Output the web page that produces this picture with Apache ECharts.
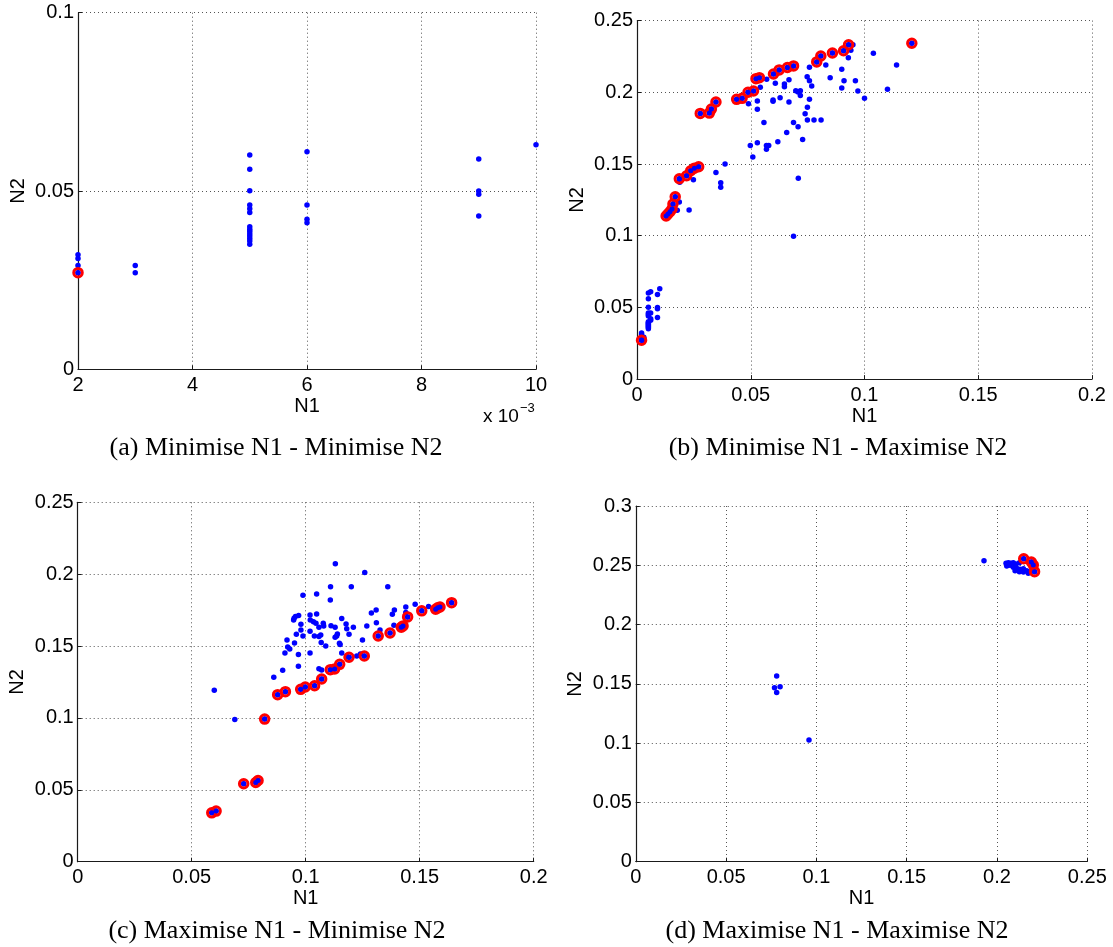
<!DOCTYPE html>
<html>
<head>
<meta charset="utf-8">
<script src="https://cdn.jsdelivr.net/npm/echarts@6/dist/echarts.min.js"></script>
<style>
  html, body { margin: 0; padding: 0; background: #ffffff; }
  #chart { width: 1113px; height: 947px; }
</style>
</head>
<body>
<div id="chart"></div>
<script>
// ---------- (a) Minimise N1 - Minimise N2 ----------
const aPopN1 = [0.002, 0.002, 0.002, 0.003, 0.003,
  0.005, 0.005, 0.005, 0.005, 0.005, 0.005, 0.005, 0.005, 0.005, 0.005, 0.005, 0.005, 0.005, 0.005,
  0.006, 0.006, 0.006, 0.006, 0.009, 0.009, 0.009, 0.009, 0.010];
const aPopN2 = [0.0321, 0.0311, 0.0291, 0.0291, 0.0271,
  0.0601, 0.0561, 0.0501, 0.0461, 0.0450, 0.0440, 0.0400, 0.0393, 0.0387, 0.0380, 0.0374, 0.0367, 0.0360, 0.0351,
  0.0610, 0.0461, 0.0421, 0.0411, 0.0590, 0.0500, 0.0491, 0.0430, 0.0630];
const aFrontN1 = [0.002];
const aFrontN2 = [0.0271];
const aTicksN1 = [2, 4, 6, 8, 10];   // shown in units of 10^-3

// ---------- (b) Minimise N1 - Maximise N2 ----------
const bPopN1 = [0.002, 0.002, 0.002, 0.003, 0.003,
  0.005, 0.005, 0.005, 0.005, 0.005, 0.005, 0.005, 0.005, 0.005, 0.005, 0.005, 0.005, 0.005, 0.005,
  0.006, 0.006, 0.006, 0.006, 0.009, 0.009, 0.009, 0.009, 0.010,
  0.0177, 0.0186, 0.0229, 0.0188, 0.0248, 0.0347, 0.0368, 0.0368, 0.0387,
  0.0490, 0.0529, 0.0529, 0.0498, 0.0509, 0.0529, 0.0558, 0.0569, 0.0569, 0.0579,
  0.0570, 0.0542, 0.0598, 0.0598, 0.0608, 0.0619, 0.0629, 0.0648, 0.0648, 0.0658,
  0.0668, 0.0668, 0.0688, 0.0688, 0.0698, 0.0708, 0.0718, 0.0718, 0.0708, 0.0709,
  0.0728, 0.0739, 0.0749, 0.0758, 0.0749, 0.0778, 0.0809, 0.0758, 0.0748, 0.0758,
  0.0768, 0.0830, 0.0849, 0.0900, 0.0900, 0.0910, 0.0960, 0.0971, 0.1000, 0.1039,
  0.1101, 0.1141, 0.0940, 0.0929, 0.0949];
const bPopN2 = [0.0321, 0.0311, 0.0291, 0.0291, 0.0271,
  0.0601, 0.0561, 0.0501, 0.0461, 0.0450, 0.0440, 0.0400, 0.0393, 0.0387, 0.0380, 0.0374, 0.0367, 0.0360, 0.0351,
  0.0610, 0.0461, 0.0421, 0.0411, 0.0590, 0.0500, 0.0491, 0.0430, 0.0630,
  0.1177, 0.1235, 0.1179, 0.1372, 0.1390, 0.1441, 0.1370, 0.1337, 0.1500,
  0.1920, 0.1939, 0.1881, 0.1629, 0.1548, 0.1648, 0.1790, 0.1629, 0.1602, 0.1629,
  0.2091, 0.2035, 0.1946, 0.1937, 0.2063, 0.1656, 0.1962, 0.2058, 0.2039, 0.1720,
  0.2088, 0.1932, 0.1790, 0.0997, 0.2011, 0.2002, 0.2011, 0.1978, 0.1760, 0.1400,
  0.1671, 0.1851, 0.1895, 0.1951, 0.1806, 0.1806, 0.1806, 0.2174, 0.2109, 0.2081,
  0.2044, 0.2191, 0.2102, 0.2160, 0.2030, 0.2081, 0.2081, 0.2009, 0.1958, 0.2272,
  0.2021, 0.2190, 0.2293, 0.2241, 0.2332];
const bFrontN1 = [0.002, 0.0128, 0.0136, 0.0145, 0.0154, 0.0158, 0.0168, 0.0186, 0.0218, 0.0236,
  0.0252, 0.0271, 0.0278, 0.0318, 0.0327, 0.0347, 0.0438, 0.0462, 0.0488, 0.0512,
  0.0523, 0.0538, 0.0600, 0.0625, 0.0661, 0.0688, 0.0790, 0.0808, 0.0859, 0.0908,
  0.0930, 0.1208];
const bFrontN2 = [0.0271, 0.1137, 0.1151, 0.1167, 0.1186, 0.1221, 0.1272, 0.1397, 0.1418, 0.1453,
  0.1471, 0.1481, 0.1853, 0.1855, 0.1883, 0.1932, 0.1951, 0.1958, 0.2000, 0.2009,
  0.2095, 0.2102, 0.2128, 0.2156, 0.2173, 0.2184, 0.2212, 0.2253, 0.2274, 0.2290,
  0.2332, 0.2342];

// ---------- (c) Maximise N1 - Minimise N2 ----------
const cPopN1 = [0.1130, 0.1259, 0.0988, 0.1048, 0.1109, 0.1200, 0.1360, 0.1108, 0.0949, 0.0955,
  0.0969, 0.0947, 0.1019, 0.1020, 0.1034, 0.1048, 0.1045, 0.1058, 0.1077, 0.1079,
  0.1111, 0.1129, 0.1158, 0.1177, 0.1180, 0.1209, 0.0979, 0.0979, 0.0959, 0.0988,
  0.1019, 0.1038, 0.1058, 0.1066, 0.1068, 0.1088, 0.1129, 0.1136, 0.1139, 0.1148,
  0.1151, 0.1190, 0.1249, 0.1268, 0.1288, 0.1309, 0.1310, 0.1380, 0.1389, 0.1439,
  0.1439, 0.1480, 0.1539, 0.1387, 0.0918, 0.0921, 0.0930, 0.0951, 0.0909, 0.0968,
  0.1019, 0.0968, 0.0899, 0.0860, 0.1058, 0.0599, 0.0689, 0.1158, 0.1224, 0.1240,
  0.1180, 0.1070, 0.1326];
const cPopN2 = [0.2072, 0.2011, 0.1853, 0.1863, 0.1912, 0.1912, 0.1912, 0.1821, 0.1693, 0.1705,
  0.1712, 0.1681, 0.1716, 0.1681, 0.1669, 0.1723, 0.1658, 0.1630, 0.1658, 0.1640,
  0.1642, 0.1630, 0.1691, 0.1654, 0.1621, 0.1630, 0.1651, 0.1612, 0.1582, 0.1570,
  0.1603, 0.1570, 0.1566, 0.1577, 0.1524, 0.1501, 0.1561, 0.1570, 0.1584, 0.1519,
  0.1510, 0.1582, 0.1543, 0.1640, 0.1730, 0.1751, 0.1663, 0.1721, 0.1751, 0.1772,
  0.1733, 0.1791, 0.1775, 0.1645, 0.1543, 0.1494, 0.1480, 0.1522, 0.1452, 0.1441,
  0.1452, 0.1359, 0.1331, 0.1283, 0.1343, 0.1192, 0.0990, 0.1452, 0.1431, 0.1445,
  0.1427, 0.1334, 0.1612];
const cFrontN1 = [0.0588, 0.0607, 0.0728, 0.0781, 0.0791, 0.0820, 0.0877, 0.0911, 0.0978, 0.0998,
  0.1039, 0.1070, 0.1108, 0.1127, 0.1149, 0.1190, 0.1257, 0.1318, 0.1370, 0.1419,
  0.1427, 0.1447, 0.1509, 0.1570, 0.1579, 0.1589, 0.1640];
const cFrontN2 = [0.0340, 0.0352, 0.0542, 0.0551, 0.0565, 0.0992, 0.1162, 0.1183, 0.1199, 0.1215,
  0.1224, 0.1271, 0.1336, 0.1341, 0.1373, 0.1422, 0.1431, 0.1570, 0.1591, 0.1631,
  0.1640, 0.1703, 0.1745, 0.1756, 0.1766, 0.1772, 0.1802];

// ---------- (d) Maximise N1 - Maximise N2 ----------
const dPopN1 = [0.0780, 0.0768, 0.0799, 0.0780, 0.0959, 0.1928,
  0.2050, 0.2063, 0.2076, 0.2090, 0.2105, 0.2124, 0.2054, 0.2072, 0.2090, 0.2109,
  0.2127, 0.2146, 0.2164, 0.2183, 0.2100, 0.2124, 0.2146, 0.2173];
const dPopN2 = [0.1566, 0.1468, 0.1476, 0.1426, 0.1026, 0.2539,
  0.2517, 0.2522, 0.2517, 0.2522, 0.2511, 0.2522, 0.2494, 0.2500, 0.2483, 0.2474,
  0.2466, 0.2471, 0.2454, 0.2443, 0.2454, 0.2446, 0.2443, 0.2432];
const dFrontN1 = [0.2148, 0.2190, 0.2201, 0.2208];
const dFrontN2 = [0.2555, 0.2528, 0.2502, 0.2446];

const captions = [
  '(a) Minimise N1 - Minimise N2',
  '(b) Minimise N1 - Maximise N2',
  '(c) Maximise N1 - Minimise N2',
  '(d) Maximise N1 - Maximise N2'
];

// ---------- layout of the four plots ----------
const panels = [
  { grid: { left: 78, top: 12.7, width: 458, height: 356.6 },
    x: { min: 0.002, max: 0.010, interval: 0.002 }, y: { min: 0, max: 0.1, interval: 0.05 },
    pop: [aPopN1, aPopN2], front: [aFrontN1, aFrontN2], cap: [276, 448] },
  { grid: { left: 637, top: 20.6, width: 455, height: 358.5 },
    x: { min: 0, max: 0.2, interval: 0.05 }, y: { min: 0, max: 0.25, interval: 0.05 },
    pop: [bPopN1, bPopN2], front: [bFrontN1, bFrontN2], cap: [838, 448] },
  { grid: { left: 77.7, top: 502.3, width: 456, height: 359.4 },
    x: { min: 0, max: 0.2, interval: 0.05 }, y: { min: 0, max: 0.25, interval: 0.05 },
    pop: [cPopN1, cPopN2], front: [cFrontN1, cFrontN2], cap: [277, 931] },
  { grid: { left: 635.8, top: 506, width: 451.5, height: 355.7 },
    x: { min: 0, max: 0.25, interval: 0.05 }, y: { min: 0, max: 0.3, interval: 0.05 },
    pop: [dPopN1, dPopN2], front: [dFrontN1, dFrontN2], cap: [837, 931] }
];

const zip = (xs, ys) => xs.map((v, i) => [v, ys[i]]);

const SANS = '"Liberation Sans", Arial, Helvetica, sans-serif';
const SERIF = '"Liberation Serif", "Times New Roman", serif';
const AXIS_COLOR = '#1a1a1a';
const LABEL_SIZE = 20;
const gridLine = { show: true, lineStyle: { color: '#555555', width: 1, type: [1, 3] } };

const grids = [], xAxes = [], yAxes = [], series = [], graphics = [];

panels.forEach((p, i) => {
  grids.push(Object.assign({ containLabel: false }, p.grid));
  xAxes.push({
    type: 'value', gridIndex: i, min: p.x.min, max: p.x.max, interval: p.x.interval,
    name: 'N1', nameLocation: 'middle', nameGap: 27,
    nameTextStyle: { fontFamily: SANS, fontSize: LABEL_SIZE, color: '#000' },
    axisLine: { show: true, onZero: false, lineStyle: { color: AXIS_COLOR, width: 1.2 } },
    axisTick: { show: true, inside: true, length: 4, lineStyle: { color: AXIS_COLOR } },
    axisLabel: {
      fontFamily: SANS, fontSize: LABEL_SIZE, color: '#000', margin: 6,
      formatter: i === 0 ? (v) => String(aTicksN1[Math.round((v - 0.002) / 0.002)]) : null
    },
    splitLine: gridLine
  });
  yAxes.push({
    type: 'value', gridIndex: i, min: p.y.min, max: p.y.max, interval: p.y.interval,
    name: 'N2', nameLocation: 'middle', nameGap: 50, nameRotate: 90,
    nameTextStyle: { fontFamily: SANS, fontSize: LABEL_SIZE, color: '#000' },
    axisLine: { show: true, onZero: false, lineStyle: { color: AXIS_COLOR, width: 1.2 } },
    axisTick: { show: true, inside: true, length: 4, lineStyle: { color: AXIS_COLOR } },
    axisLabel: { fontFamily: SANS, fontSize: LABEL_SIZE, color: '#000', margin: 4 },
    splitLine: gridLine
  });
  // whole population: small filled blue dots
  series.push({
    type: 'scatter', xAxisIndex: i, yAxisIndex: i, silent: true, z: 2,
    symbol: 'circle', symbolSize: 5.5,
    itemStyle: { color: '#0000ff', opacity: 1 },
    data: zip(p.pop[0], p.pop[1]).concat(zip(p.front[0], p.front[1]))
  });
  // non-dominated solutions: red rings
  series.push({
    type: 'scatter', xAxisIndex: i, yAxisIndex: i, silent: true, z: 3,
    symbol: 'circle', symbolSize: 8.5,
    itemStyle: { color: 'rgba(0,0,0,0)', borderColor: '#ff0000', borderWidth: 3, opacity: 1 },
    data: zip(p.front[0], p.front[1])
  });
  // blue centre dots of the non-dominated solutions on top of the rings
  series.push({
    type: 'scatter', xAxisIndex: i, yAxisIndex: i, silent: true, z: 4,
    symbol: 'circle', symbolSize: 5,
    itemStyle: { color: '#0000ff', opacity: 1 },
    data: zip(p.front[0], p.front[1])
  });
  graphics.push({
    type: 'text', x: p.cap[0], y: p.cap[1],
    style: {
      text: captions[i], fontFamily: SERIF, fontSize: 26, fill: '#000',
      textAlign: 'center', textVerticalAlign: 'middle'
    }
  });
});

// exponent of the N1 axis in plot (a)
graphics.push({
  type: 'text', x: 483, y: 417,
  style: {
    text: 'x 10{sup|\u22123}', fontFamily: SANS, fontSize: 19, fill: '#000',
    textVerticalAlign: 'middle',
    rich: { sup: { fontFamily: SANS, fontSize: 13, padding: [0, 0, 17, 1] } }
  }
});

const chart = echarts.init(document.getElementById('chart'), null, { renderer: 'canvas' });
chart.setOption({
  backgroundColor: '#ffffff',
  animation: false,
  grid: grids,
  xAxis: xAxes,
  yAxis: yAxes,
  series: series,
  graphic: graphics
});
</script>
</body>
</html>
